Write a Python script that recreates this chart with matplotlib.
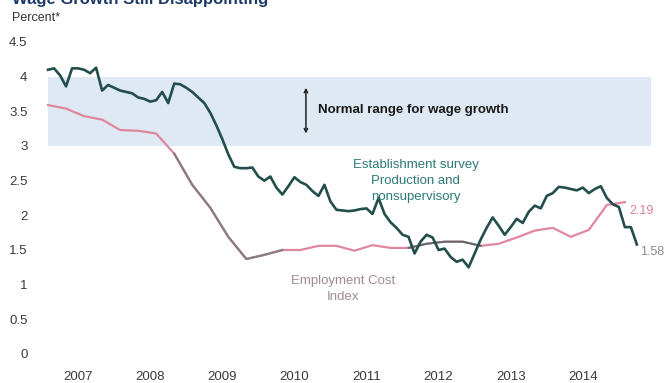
import numpy as np
import matplotlib
matplotlib.use("Agg")
import matplotlib.pyplot as plt

# monthly growth, production and nonsupervisory (from Feb 2007)
establishment = [
    4.10, 4.12, 4.02, 3.86, 4.12, 4.12, 4.10, 4.05, 4.13, 3.80,
    3.88, 3.84, 3.80, 3.78, 3.76, 3.70, 3.68, 3.64, 3.66, 3.78,
    3.62, 3.90, 3.89, 3.84, 3.78, 3.70, 3.62, 3.48, 3.30, 3.10,
    2.88, 2.70, 2.68, 2.68, 2.69, 2.56, 2.50, 2.56, 2.40, 2.30,
    2.42, 2.55, 2.48, 2.44, 2.35, 2.28, 2.44, 2.20, 2.08, 2.07,
    2.06, 2.07, 2.09, 2.10, 2.02, 2.25, 2.02, 1.90, 1.82, 1.72,
    1.69, 1.45, 1.62, 1.72, 1.68, 1.50, 1.52, 1.40, 1.33, 1.36,
    1.25, 1.45, 1.65, 1.82, 1.97, 1.85, 1.72, 1.83, 1.95, 1.89,
    2.05, 2.14, 2.10, 2.28, 2.32, 2.41, 2.40, 2.38, 2.36, 2.40,
    2.32, 2.38, 2.42, 2.25, 2.16, 2.12, 1.83, 1.83, 1.58,
]

# quarterly employment cost index growth
eci = [
    3.59, 3.54, 3.43, 3.38, 3.23, 3.22, 3.18, 2.89, 2.44, 2.11,
    1.69, 1.37, 1.43, 1.50, 1.50, 1.56, 1.56, 1.49, 1.57, 1.53,
    1.53, 1.59, 1.62, 1.62, 1.56, 1.59, 1.68, 1.78, 1.82, 1.69,
    1.79, 2.15, 2.19,
]

years = list(range(2007, 2015))
yticks = [0, 0.5, 1, 1.5, 2, 2.5, 3, 3.5, 4, 4.5]
ytick_labels = ["0", "0.5", "1", "1.5", "2", "2.5", "3", "3.5", "4", "4.5"]
normal_range = (3.0, 4.0)

est_x = 2007 + 1 / 12 + np.arange(len(establishment)) / 12
eci_x = 2007 + 1 / 12 + np.arange(len(eci)) * 0.25

plt.rcParams["font.family"] = ["Liberation Sans", "DejaVu Sans"]

fig = plt.figure(figsize=(6.7, 3.83), dpi=100)
ax = fig.add_axes([40 / 670, 29 / 383, 625 / 670, 312 / 383])
ax.set_xlim(2006.972, 2015.64)
ax.set_ylim(0, 4.5)

# shaded normal range
ax.fill_between([eci_x[0], 2015.45], normal_range[0], normal_range[1],
                color="#d9e6f1", alpha=0.85, lw=0, zorder=0)

# ECI line, pink with greyish stretches
ax.plot(eci_x, eci, color="#e0879f", lw=1.6, zorder=2)
ax.plot(eci_x[7:14], eci[7:14], color="#8a7d80", lw=1.6, zorder=2)
ax.plot(eci_x[20:25], eci[20:25], color="#5d6a68", lw=1.4, zorder=2)

ax.plot(est_x, establishment, color="#224e4b", lw=1.9, zorder=3)

# range arrow and labels
ax.annotate("", xy=(2010.66, 3.88), xytext=(2010.66, 3.14),
            arrowprops=dict(arrowstyle="<->", color="#222222", lw=1.1,
                            mutation_scale=6))
ax.text(2010.83, 3.52, "Normal range for wage growth", fontsize=9.5,
        fontweight="bold", color="#1a1a1a", va="center", ha="left")
ax.text(2012.18, 2.50, "Establishment survey\nProduction and\nnonsupervisory",
        fontsize=9.5, color="#2b7a76", ha="center", va="center",
        linespacing=1.45)
ax.text(2011.18, 0.94, "Employment Cost\nIndex", fontsize=9.5,
        color="#a08b91", ha="center", va="center", linespacing=1.4)
ax.text(est_x[-1] - 0.1, 2.06, "%.2f" % eci[-1], fontsize=9,
        color="#d9829a", ha="left", va="center")
ax.text(est_x[-1] + 0.04, 1.47, "%.2f" % establishment[-1],
        fontsize=9, color="#8c8c8c", ha="left", va="center")

ax.set_yticks(yticks)
ax.set_yticklabels(ytick_labels)
ax.set_xticks([y + 0.5 for y in years])
ax.set_xticklabels([str(y) for y in years])
ax.tick_params(axis="both", length=0, labelsize=9.5, colors="#3a3a3a")
ax.tick_params(axis="y", pad=9)
ax.tick_params(axis="x", pad=12)
for s in ax.spines.values():
    s.set_visible(False)

fig.text(12 / 670, 1 - 18 / 383, "Percent*", fontsize=9, color="#333333",
         ha="left", va="center")
fig.text(12 / 670, 1 - 4 / 383, "Wage Growth Still Disappointing",
         fontsize=12, fontweight="bold", color="#1d3a6a", ha="left",
         va="baseline")

fig.savefig("out.png", dpi=100)
